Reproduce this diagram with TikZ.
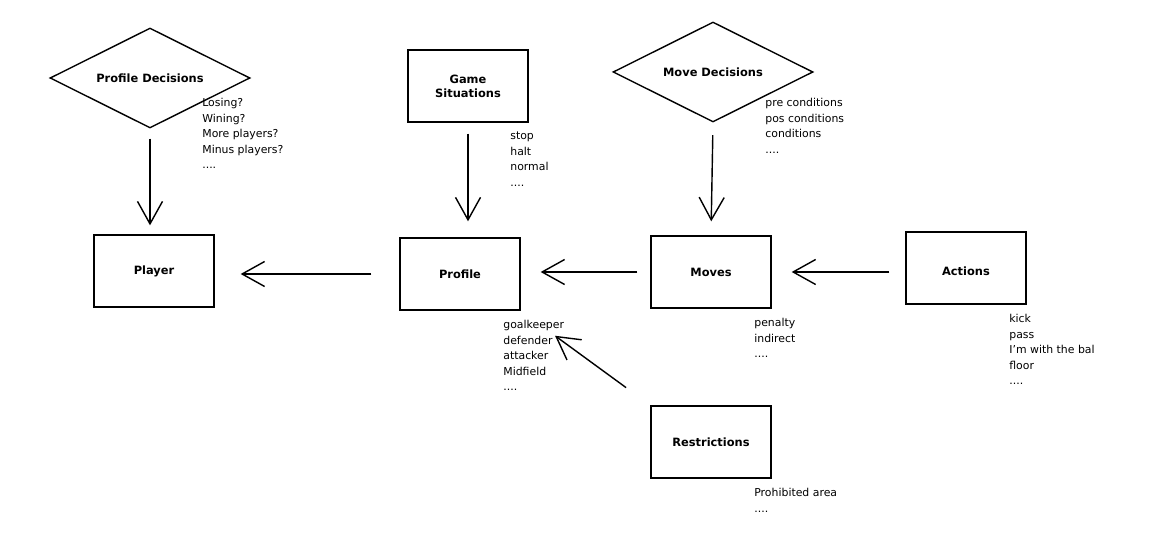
\documentclass[tikz,border=0pt]{standalone}
\usepackage{fontspec}
\setmainfont{DejaVu Sans}
\usetikzlibrary{shapes.geometric,arrows.meta}
\tikzset{
  box/.style={draw,thick,minimum width=2.4cm,minimum height=1.44cm,font=\fontsize{6.5}{8}\selectfont\bfseries,align=center},
  decision/.style={draw,thick,diamond,aspect=2,minimum width=4cm,minimum height=2cm,inner sep=0pt,font=\fontsize{6.5}{8}\selectfont\bfseries},
  note/.style={anchor=north west,inner sep=0pt,align=left,font=\fontsize{6.2}{8.8}\selectfont},
  flow/.style={thick,-{Straight Barb[length=0.45cm,width=0.5cm]}}
}
\begin{document}
\begin{tikzpicture}[x=0.02cm,y=-0.02cm]
\useasboundingbox (0,0) rectangle (1152,533);
% decisions and situations
\node[decision] (pdec) at (150,78) {Profile Decisions};
\node[box] (game) at (468,86) {Game\\Situations};
\node[decision] (mdec) at (713,72) {Move Decisions};
% main row
\node[box] (player) at (154,271) {Player};
\node[box] (profile) at (460,274) {Profile};
\node[box] (moves) at (711,272) {Moves};
\node[box] (actions) at (966,268) {\raisebox{-9pt}{Actions}};
\node[box] (restr) at (711,442) {Restrictions};
% notes
\node[note] at (202,98) {Losing?\\Wining?\\More players?\\Minus players?\\....};
\node[note] at (510,132) {stop\\halt\\normal\\....};
\node[note] at (765,98) {pre conditions\\pos conditions\\conditions\\....};
\node[note] at (503,320) {goalkeeper\\defender\\attacker\\Midfield\\....};
\node[note] at (754,318) {penalty\\indirect\\....};
\node[note] at (1009,314) {kick\\pass\\I'm with the bal\\floor\\....};
\node[note] at (754,488) {Prohibited area\\....};
% connectors
\draw[flow,shorten <=10\pgflinewidth*0+0.2cm,shorten >=0.18cm] (pdec.south) -- (pdec.south |- player.north);
\draw[flow,shorten <=0.22cm,shorten >=0.32cm] (game) -- (game |- profile.north);
\draw[flow,shorten <=0.25cm,shorten >=0.28cm] (mdec.south) -- (moves.north);
\draw[flow,shorten <=0.56cm,shorten >=0.52cm] (profile.west) -- (profile.west -| player.east);
\draw[flow,shorten <=0.26cm,shorten >=0.4cm] (moves.west) -- (moves.west -| profile.east);
\draw[flow,shorten <=0.32cm,shorten >=0.4cm] (actions.west |- moves.west) -- (moves.east);
\draw[flow,shorten <=0.6cm,shorten >=0.85cm] (restr.north west) -- (profile.south east);
\end{tikzpicture}
\end{document}
